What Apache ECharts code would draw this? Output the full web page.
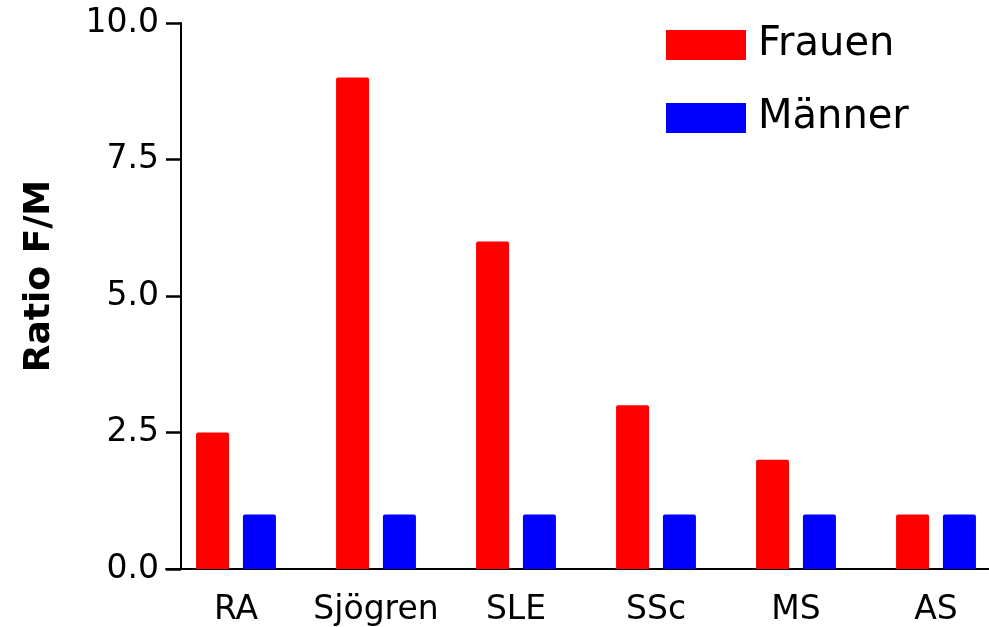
<!DOCTYPE html>
<html>
<head>
<meta charset="utf-8">
<script src="https://cdn.jsdelivr.net/npm/echarts@6/dist/echarts.min.js"></script>
<style>html,body{margin:0;padding:0;background:#fff}#c{width:989px;height:627px}</style>
</head>
<body>
<div id="c"></div>
<script>
const categories = ['RA', 'Sjögren', 'SLE', 'SSc', 'MS', 'AS'];
const frauen = [2.5, 9.0, 6.0, 3.0, 2.0, 1.0];
const maenner = [1.0, 1.0, 1.0, 1.0, 1.0, 1.0];
const seriesNames = ['Frauen', 'Männer'];
const yTitle = 'Ratio F/M';

const FONT = 'DejaVu Sans';
const chart = echarts.init(document.getElementById('c'), null, {renderer: 'canvas'});
chart.setOption({
  animation: false,
  backgroundColor: '#ffffff',
  grid: {left: 166, right: -17, top: 23, bottom: 58, outerBoundsMode: 'none', containLabel: false},
  legend: {
    orient: 'vertical', left: 666, top: 25, padding: 0,
    itemWidth: 80, itemHeight: 30, itemGap: 33,
    icon: 'rect',
    textStyle: {fontFamily: FONT, fontSize: 40, color: '#000', padding: [4,0,0,7]},
    data: seriesNames
  },
  graphic: [{
    type: 'text', x: 40, y: 276, rotation: Math.PI / 2,
    style: {text: yTitle, fontFamily: FONT, fontSize: 36, fontWeight: 'bold', fill: '#000', align: 'center', verticalAlign: 'middle'}
  }],
  xAxis: {
    type: 'category', data: categories,
    axisLine: {lineStyle: {color: '#000', width: 2}},
    axisTick: {show: false},
    axisLabel: {fontFamily: FONT, fontSize: 33, color: '#000', margin: 25, interval: 0}
  },
  yAxis: {
    type: 'value', min: 0, max: 10, interval: 2.5, offset: -15,
    axisLine: {show: true, lineStyle: {color: '#000', width: 2}},
    axisTick: {show: true, length: 15, lineStyle: {color: '#000', width: 2.5}},
    axisLabel: {fontFamily: FONT, fontSize: 33, color: '#000', margin: 22, formatter: v => v.toFixed(1)},
    splitLine: {show: false}
  },
  series: [
    {name: seriesNames[0], type: 'bar', data: frauen, barWidth: 33, barGap: '42%', itemStyle: {color: '#ff0000', borderRadius: [2, 2, 0, 0]}},
    {name: seriesNames[1], type: 'bar', data: maenner, barWidth: 33, barGap: '42%', itemStyle: {color: '#0000ff', borderRadius: [2, 2, 0, 0]}}
  ]
});
</script>
</body>
</html>
